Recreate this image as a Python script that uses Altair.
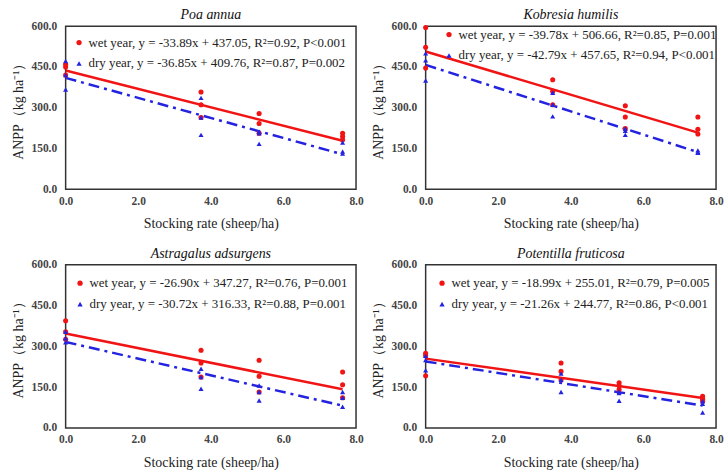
import altair as alt
import pandas as pd

# ---------------- data ----------------
species = ["Poa annua", "Kobresia humilis", "Astragalus adsurgens", "Potentilla fruticosa"]

stocking = [
    [0.0, 3.73, 5.33, 7.63],
    [0.0, 3.5, 5.5, 7.5],
    [0.0, 3.73, 5.33, 7.63],
    [0.0, 3.73, 5.33, 7.63],
]

# three replicate ANPP values per stocking level
wet_values = [
    [[460, 450, 420], [358, 311, 264], [279, 242, 206], [206, 194, 182]],
    [[595, 522, 446], [403, 360, 311], [307, 266, 223], [266, 221, 203]],
    [[394, 354, 326], [286, 239, 187], [249, 190, 132], [206, 159, 111]],
    [[275, 266, 192], [239, 208, 177], [166, 155, 141], [116, 106, 98]],
]
dry_values = [
    [[472, 420, 367], [336, 264, 200], [212, 206, 167], [172, 139, 131]],
    [[500, 474, 400], [355, 311, 268], [223, 215, 200], [143, 137, 134]],
    [[354, 330, 315], [218, 187, 144], [156, 132, 101], [132, 111, 78]],
    [[265, 250, 212], [200, 177, 132], [133, 128, 100], [98, 89, 57]],
]

wet_slope = [-33.89, -39.78, -26.90, -18.99]
wet_intercept = [437.05, 506.66, 347.27, 255.01]
dry_slope = [-36.85, -42.79, -30.72, -21.26]
dry_intercept = [409.76, 457.65, 316.33, 244.77]

wet_labels = [
    "wet year, y = -33.89x + 437.05, R²=0.92, P<0.001",
    "wet year, y = -39.78x + 506.66, R²=0.85, P=0.001",
    "wet year, y = -26.90x + 347.27, R²=0.76, P=0.001",
    "wet year, y = -18.99x + 255.01, R²=0.79, P=0.005",
]
dry_labels = [
    "dry year, y = -36.85x + 409.76, R²=0.87, P=0.002",
    "dry year, y = -42.79x + 457.65, R²=0.94, P<0.001",
    "dry year, y = -30.72x + 316.33, R²=0.88, P=0.001",
    "dry year, y = -21.26x + 244.77, R²=0.86, P<0.001",
]

x_ticks = [0, 2, 4, 6, 8]
y_ticks = [0, 150, 300, 450, 600]

# legend placement inside each plot (px from plot's top-left)
legend_x = [7, 17, 8, 10]
legend_y = [10, 2, 12, 12]

RED = "#f01414"
BLUE = "#2323e0"
SERIF = "Liberation Serif"
W, H = 292, 164


def panel(i):
    rows = []
    for lvl, x in enumerate(stocking[i]):
        for v in wet_values[i][lvl]:
            rows.append({"x": x, "y": v, "s": wet_labels[i], "o": 0})
        for v in dry_values[i][lvl]:
            rows.append({"x": x, "y": v, "s": dry_labels[i], "o": 1})
    pts = pd.DataFrame(rows)

    x0, x1 = 0.0, stocking[i][-1]
    lines = pd.DataFrame({
        "x": [x0, x1, x0, x1],
        "y": [wet_intercept[i] + wet_slope[i] * x0, wet_intercept[i] + wet_slope[i] * x1,
              dry_intercept[i] + dry_slope[i] * x0, dry_intercept[i] + dry_slope[i] * x1],
        "k": ["wet", "wet", "dry", "dry"],
    })

    xenc = alt.X("x:Q", scale=alt.Scale(domain=[0, 8], nice=False),
                 axis=alt.Axis(values=x_ticks, format=".1f", title="Stocking rate (sheep/ha)"))
    yenc = alt.Y("y:Q", scale=alt.Scale(domain=[0, 600], nice=False),
                 axis=alt.Axis(values=y_ticks, format=".1f", title="ANPP（kg ha⁻¹）"))

    wet_line = alt.Chart(lines).transform_filter(alt.datum.k == "wet").mark_line(
        color=RED, strokeWidth=2.5).encode(x=xenc, y=yenc)
    dry_line = alt.Chart(lines).transform_filter(alt.datum.k == "dry").mark_line(
        color=BLUE, strokeWidth=2.5, strokeDash=[11, 5, 3, 5]).encode(x=xenc, y=yenc)

    dom = [wet_labels[i], dry_labels[i]]
    leg = alt.Legend(title=None, orient="none", legendX=legend_x[i], legendY=legend_y[i])
    points = alt.Chart(pts).mark_point(filled=True, size=26, opacity=1).encode(
        x=xenc, y=yenc,
        color=alt.Color("s:N", scale=alt.Scale(domain=dom, range=[RED, BLUE]), legend=leg),
        shape=alt.Shape("s:N", scale=alt.Scale(domain=dom, range=["circle", "triangle-up"]),
                        legend=leg),
        order=alt.Order("o:Q"),
    )

    return alt.layer(wet_line, dry_line, points).resolve_scale(
        color="independent", shape="independent"
    ).properties(
        width=W, height=H,
        title=alt.TitleParams(species[i], font=SERIF, fontStyle="italic",
                              fontWeight="normal", fontSize=14, color="#111", offset=0, dy=2),
    )


chart = alt.concat(panel(0), panel(1), panel(2), panel(3), columns=2,
                   spacing={"row": 76, "column": 70}, bounds="flush")
chart = chart.resolve_scale(color="independent", shape="independent").properties(
    padding={"left": 10, "top": 6, "right": 0, "bottom": 0}
).configure_view(
    stroke="#333333", strokeWidth=1.5
).configure_axis(
    grid=False, domain=False, ticks=False, labelFlush=False, labelOverlap=False,
    labelFont=SERIF, labelFontWeight="bold", labelFontSize=11.5, labelColor="#444444",
    titleFont=SERIF, titleFontWeight="normal", titleFontSize=14, titleColor="#222222",
).configure_axisX(
    labelPadding=6, titlePadding=10,
).configure_axisY(
    labelPadding=9, titlePadding=6,
).configure_legend(
    labelFont=SERIF, labelFontSize=13, labelColor="#222222", labelLimit=400,
    symbolSize=28, symbolStrokeWidth=0, rowPadding=7, padding=0,
    labelOffset=3,
)

chart.save("out.html", embed_options={"renderer": "svg", "actions": False})
